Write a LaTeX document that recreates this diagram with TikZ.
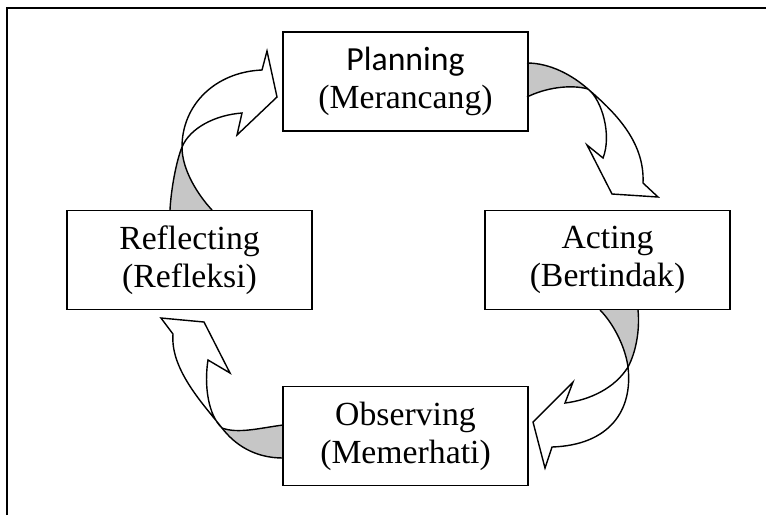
\documentclass[tikz,border=0pt]{standalone}
\usepackage{fontspec}
\setmainfont{Liberation Serif}
\newfontfamily\planfont{Carlito}
\usetikzlibrary{backgrounds,positioning,calc}
\tikzset{>=latex}
\definecolor{backgray}{RGB}{198,198,198}
\tikzset{
    backside/.style={fill=backgray},
    ribbon/.style={draw,line width=0.8pt,line join=miter}
}

\begin{document}
\begin{tikzpicture}[x=0.02cm,y=-0.02cm,font=\fontsize{19.2}{21.5}\selectfont]

    \useasboundingbox (0,0) rectangle (766,515);

    \def\xLeft{189.5}
    \def\xCentre{405.5}
    \def\xRight{607.5}
    \def\yTop{81.5}
    \def\yMid{260}
    \def\yBottom{436}

    \def\widthBox{4.9cm}
    \def\heightBox{1.98cm}

    % frame
    \draw[line width=1.2pt] (7,515) -- (7,8) -- (766,8);

    \node
        [minimum width=\widthBox,minimum height=\heightBox,align=center,draw,line width=1pt]
        at (\xCentre,\yTop)
        (planning) {{\planfont Planning}\\(Merancang)};
    \node
        [minimum width=\widthBox,minimum height=\heightBox,align=center,draw,line width=1pt]
        at (\xRight,\yMid)
        (acting) {Acting\\(Bertindak)};
    \node
        [minimum width=\widthBox,minimum height=\heightBox,align=center,draw,line width=1pt]
        at (\xCentre,\yBottom)
        (observing) {Observing\\(Memerhati)};
    \node
        [minimum width=\widthBox,minimum height=\heightBox,align=center,draw,line width=1pt]
        at (\xLeft,\yMid)
        (reflecting) {Reflecting\\(Refleksi)};

    \begin{scope}[on background layer]
    % planning -> acting
    \fill[backside] (527,63) .. controls (550,63) and (572,75) .. (588,89)
        .. controls (570,84) and (545,88) .. (527,97) -- cycle;
    \filldraw[ribbon,fill=white] (588,89) .. controls (612,110) and (645,140) .. (643,183)
        -- (658,197) -- (612,194) -- (587,145) -- (603,158)
        .. controls (612,135) and (602,100) .. (588,89) -- cycle;
    \draw[ribbon] (527,63) .. controls (550,63) and (572,75) .. (588,89);
    \draw[ribbon] (527,97) .. controls (545,88) and (570,84) .. (588,89);

    % acting -> observing
    \fill[backside] (600,310) .. controls (612,322) and (625,345) .. (628,367)
        .. controls (636,352) and (640,330) .. (638,310) -- cycle;
    \filldraw[ribbon,fill=white] (628,367) .. controls (633,410) and (610,445) .. (552,447)
        -- (545,468) -- (533,422) -- (573,382) -- (565,403)
        .. controls (590,400) and (615,388) .. (628,367) -- cycle;
    \draw[ribbon] (600,310) .. controls (612,322) and (625,345) .. (628,367);
    \draw[ribbon] (638,310) .. controls (640,330) and (636,352) .. (628,367);

    % observing -> reflecting
    \fill[backside] (283,458) .. controls (255,458) and (235,445) .. (222,428)
        .. controls (238,434) and (260,428) .. (283,425) -- cycle;
    \filldraw[ribbon,fill=white] (222,428) .. controls (205,406) and (170,370) .. (173,334)
        -- (161,318) -- (204,322) -- (230,373) -- (208,360)
        .. controls (204,385) and (208,415) .. (222,428) -- cycle;
    \draw[ribbon] (283,458) .. controls (255,458) and (235,445) .. (222,428);
    \draw[ribbon] (283,425) .. controls (260,428) and (238,434) .. (222,428);

    % reflecting -> planning
    \fill[backside] (212,210) .. controls (198,195) and (182,170) .. (182,147)
        .. controls (176,162) and (171,190) .. (170,210) -- cycle;
    \filldraw[ribbon,fill=white] (182,147) .. controls (182,105) and (215,72) .. (262,70)
        -- (267,51) -- (277,97) -- (237,135) -- (242,113)
        .. controls (215,115) and (190,128) .. (182,147) -- cycle;
    \draw[ribbon] (212,210) .. controls (198,195) and (182,170) .. (182,147);
    \draw[ribbon] (170,210) .. controls (171,190) and (176,162) .. (182,147);
    \end{scope}

\end{tikzpicture}
\end{document}
